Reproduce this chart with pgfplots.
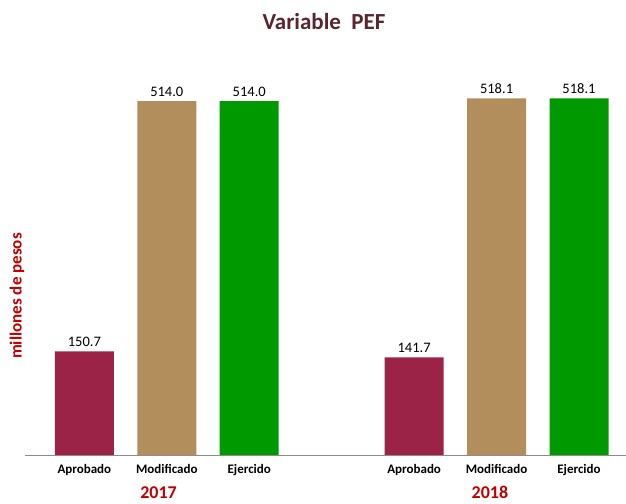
\documentclass[border=0pt]{standalone}
\usepackage{pgfplots}
\pgfplotsset{compat=1.18}
\usepackage{fontspec}
\setmainfont{Carlito}
\definecolor{aprob}{RGB}{155,35,72}
\definecolor{modif}{RGB}{179,142,93}
\definecolor{ejerc}{RGB}{0,153,0}
\definecolor{titlec}{RGB}{91,37,48}
\definecolor{redlab}{RGB}{192,0,0}
\begin{document}
\begin{tikzpicture}[x=1pt,y=1pt]
\useasboundingbox (0,0) rectangle (626,503);
\node[font=\fontsize{23}{23}\selectfont\bfseries, text=titlec] at (324,481) {Variable\ \ PEF};
\node[font=\fontsize{17}{17}\selectfont\bfseries, text=redlab, rotate=90] at (17,207) {millones de pesos};
\begin{axis}[
  at={(25pt,48pt)}, anchor=south west,
  scale only axis, width=601pt, height=413pt,
  xmin=-0.72, xmax=6.57, ymin=0, ymax=600,
  hide y axis, axis x line*=bottom,
  x axis line style={draw=gray!90, line width=0.8pt},
  major tick length=0pt,
  xtick={0,1,2,4,5,6},
  xticklabels={Aprobado,Modificado,Ejercido,Aprobado,Modificado,Ejercido},
  xticklabel style={font=\fontsize{13}{13}\selectfont\bfseries, yshift=-6pt},
  ybar, bar width=59pt, bar shift=0pt,
  nodes near coords,
  every node near coord/.append style={font=\fontsize{14.5}{14.5}\selectfont, text=black, yshift=1pt},
  /pgf/number format/.cd, fixed, fixed zerofill, precision=1, assume math mode=true,
  /pgfplots/.cd,
  clip=false,
]
\addplot[draw=none, fill=aprob] coordinates {(0,150.7) (4,141.7)};
\addplot[draw=none, fill=modif] coordinates {(1,514.0) (5,518.1)};
\addplot[draw=none, fill=ejerc] coordinates {(2,514.0) (6,518.1)};
\node[anchor=base, yshift=-43pt, font=\fontsize{18}{18}\selectfont\bfseries, text=redlab] at (axis cs:0.9,0) {2017};
\node[anchor=base, yshift=-43pt, font=\fontsize{18}{18}\selectfont\bfseries, text=redlab] at (axis cs:4.92,0) {2018};
\end{axis}
\end{tikzpicture}
\end{document}
